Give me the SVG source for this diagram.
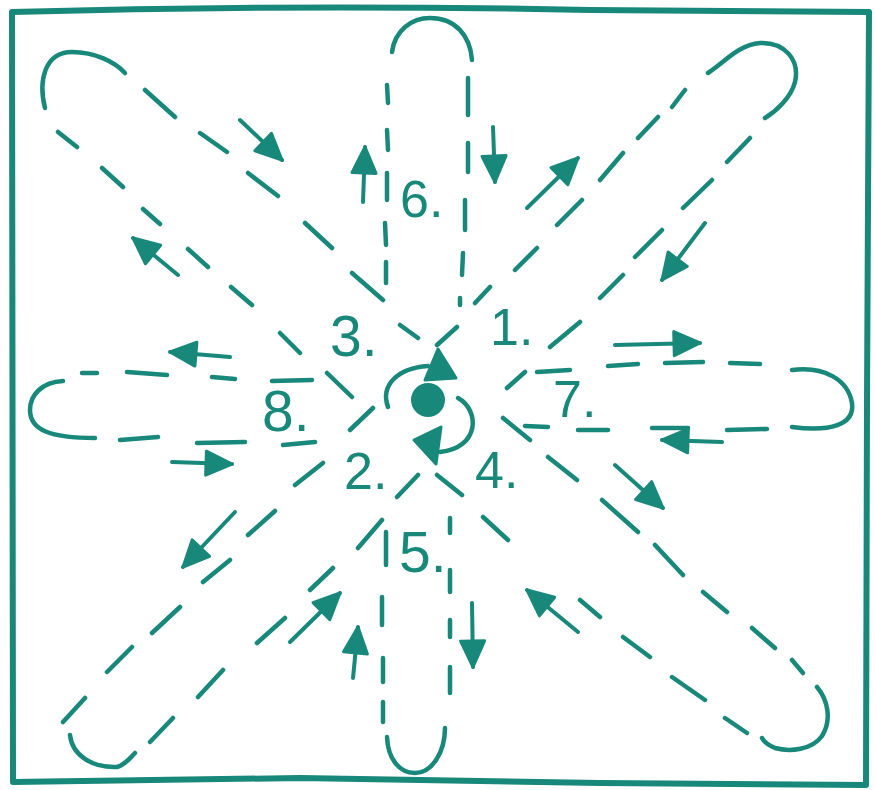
<svg xmlns="http://www.w3.org/2000/svg" width="875" height="790" viewBox="0 0 875 790">
<style>
.ln{fill:none;stroke:#18887b;stroke-width:4.5;stroke-linecap:round;stroke-linejoin:round}
.ar{fill:none;stroke:#18887b;stroke-width:4;stroke-linecap:round;marker-end:url(#head)}
.fr{fill:none;stroke:#18887b;stroke-width:6;stroke-linejoin:round}
.lb{fill:#18887b;font-family:"Liberation Sans",Arial,sans-serif;font-size:52px}
.big{font-size:57px}
.tri{fill:#18887b;stroke:#18887b;stroke-width:3;stroke-linejoin:round}
</style>
<defs>
<marker id="head" markerUnits="userSpaceOnUse" markerWidth="36" markerHeight="36" refX="27" refY="13" orient="auto" overflow="visible">
<path d="M1,1 L27,13 L1,25 Z" fill="#18887b" stroke="#18887b" stroke-width="3" stroke-linejoin="round"/>
</marker>
</defs>
<rect width="875" height="790" fill="#ffffff"/>
<path id="frame" class="fr" d="M12,12 Q300,4 590,10 L869,12 L867,400 L866,785 L600,783 L300,778 L13,782 Z"/>

<g id="connectors">
<g id="loop-3">
<path class="ln" d="M45,108 C38,80 45,52 72,52 C95,52 115,62 125,73"/>
<path class="ln" d="M145,90 L175,117 M200,133 L227,152 M248,173 L278,196 M305,223 L332,248 M352,273 L383,300 M400,325 L418,338"/>
<path class="ln" d="M58,132 L77,147 M102,168 L123,187 M143,209 L160,224 M188,249 L208,267 M231,287 L252,305 M280,333 L300,353 M327,373 L352,397"/>
<line class="ar" x1="240" y1="120" x2="282" y2="160"/>
<line class="ar" x1="178" y1="275" x2="133" y2="238"/>
</g>
<g id="loop-1">
<path class="ln" d="M708,73 C725,62 738,45 760,43 C785,42 800,60 795,82 C791,98 775,112 765,118"/>
<path class="ln" d="M672,107 L685,90 M638,138 L658,117 M600,180 L623,153 M557,225 L582,200 M515,270 L537,248 M475,303 L490,287 M437,345 L457,327"/>
<path class="ln" d="M727,162 L750,138 M683,208 L712,180 M635,257 L662,230 M600,298 L623,275 M550,347 L580,322 M507,388 L525,372"/>
<line class="ar" x1="527" y1="208" x2="578" y2="158"/>
<line class="ar" x1="705" y1="223" x2="662" y2="280"/>
</g>
<g id="loop-2">
<path class="ln" d="M70,735 C72,755 92,768 117,767 C125,765 130,758 135,753"/>
<path class="ln" d="M63,722 L85,698 M107,672 L132,647 M152,633 L180,607 M203,582 L230,560 M248,535 L275,511 M295,485 L323,463 M350,430 L373,408"/>
<path class="ln" d="M150,742 L173,718 M198,697 L223,670 M257,643 L285,618 M310,590 L333,568 M358,548 L382,520 M397,497 L418,475"/>
<line class="ar" x1="235" y1="512" x2="183" y2="567"/>
<line class="ar" x1="290" y1="642" x2="340" y2="593"/>
</g>
<g id="loop-4">
<path class="ln" d="M817,687 C828,700 832,720 822,736 C812,750 790,752 775,748 C768,745 764,742 762,738"/>
<path class="ln" d="M503,418 L530,440 M548,457 L577,480 M602,500 L638,532 M655,545 L683,575 M703,592 L727,612 M752,628 L775,648 M792,660 L803,673"/>
<path class="ln" d="M437,475 L462,495 M483,517 L508,540 M580,600 L600,617 M623,637 L650,657 M672,677 L705,700 M725,718 L747,733"/>
<line class="ar" x1="615" y1="465" x2="663" y2="508"/>
<line class="ar" x1="578" y1="632" x2="527" y2="590"/>
</g>
<g id="loop-6">
<path class="ln" d="M392,52 C395,30 412,18 430,18 C455,18 470,35 472,60"/>
<path class="ln" d="M387,85 L388,103 M387,130 L388,150 M387,173 L387,200 M385,223 L386,245 M386,262 L386,283"/>
<path class="ln" d="M468,78 L468,115 M468,143 L468,172 M465,200 L465,230 M463,253 L462,275 M460,298 L460,305"/>
<line class="ar" x1="363" y1="202" x2="365" y2="147"/>
<line class="ar" x1="493" y1="127" x2="495" y2="182"/>
</g>
<g id="loop-5">
<path class="ln" d="M387,737 C388,760 400,773 415,773 C432,773 445,752 445,728"/>
<path class="ln" d="M386,532 L386,565 M382,597 L382,625 M383,658 L383,682 M383,702 L383,722"/>
<path class="ln" d="M450,518 L450,533 M450,570 L450,592 M450,620 L450,637 M450,667 L450,693"/>
<line class="ar" x1="353" y1="678" x2="358" y2="627"/>
<line class="ar" x1="472" y1="603" x2="473" y2="667"/>
</g>
<g id="loop-7">
<path class="ln" d="M792,370 C825,366 848,380 852,403 C855,425 830,432 792,427"/>
<path class="ln" d="M537,372 L570,370 M608,366 L638,364 M665,363 L703,362 M730,363 L760,364"/>
<path class="ln" d="M767,429 L727,430 M688,428 L652,428 M608,430 L578,430 M548,427 L525,426"/>
<line class="ar" x1="615" y1="345" x2="700" y2="343"/>
<line class="ar" x1="722" y1="442" x2="662" y2="440"/>
</g>
<g id="loop-8">
<path class="ln" d="M63,381 C42,382 30,395 30,410 C30,430 50,438 95,438"/>
<path class="ln" d="M82,373 L97,373 M127,372 L167,375 M212,377 L235,379 M272,381 L312,380"/>
<path class="ln" d="M120,440 L158,437 M197,443 L245,442 M283,445 L315,442"/>
<line class="ar" x1="230" y1="357" x2="170" y2="352"/>
<line class="ar" x1="172" y1="462" x2="232" y2="464"/>
</g>
</g>

<g id="center">
<circle cx="428" cy="400" r="17" fill="#18887b"/>
<path class="ln" d="M388,407 C380,385 398,368 428,366"/>
<polygon class="tri" points="425,380 456,378 438,349"/>
<path class="ln" d="M458,398 C480,410 480,448 440,452"/>
<polygon class="tri" points="414,440 441,427 436,464"/>
</g>

<g id="labels">
<text class="lb big" x="330" y="356">3.</text>
<text class="lb" x="490" y="345">1.</text>
<text class="lb" x="344" y="489">2.</text>
<text class="lb" x="475" y="488">4.</text>
<text class="lb" x="400" y="217">6.</text>
<text class="lb big" x="262" y="431">8.</text>
<text class="lb" x="553" y="417">7.</text>
<text class="lb big" x="399" y="572">5.</text>
</g>
</svg>
